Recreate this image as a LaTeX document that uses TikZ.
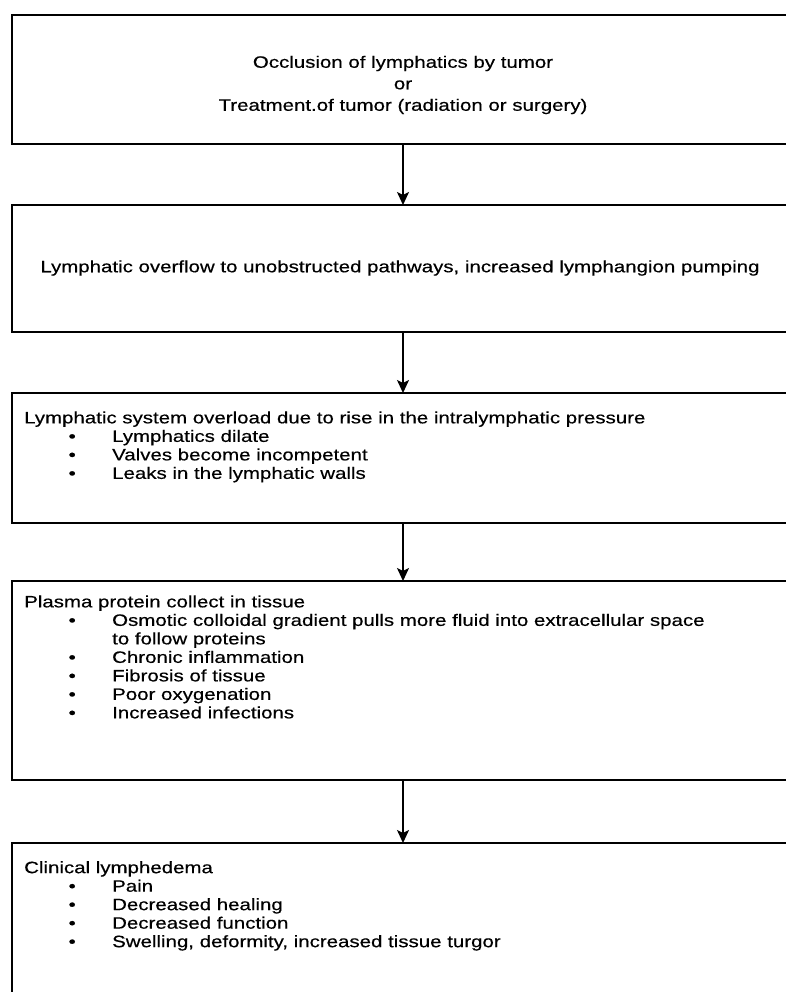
\documentclass[tikz,border=0pt]{standalone}
\usepackage{fontspec}
\setmainfont{Liberation Sans}[FakeStretch=1.24,FakeBold=0.4]
\usetikzlibrary{arrows.meta}
\newcommand{\bitem}[1]{\makebox[88pt][l]{\hspace*{48pt}\makebox[0pt]{•}}#1}
\newcommand{\bcont}[1]{\hspace*{88pt}#1}
\begin{document}
\begin{tikzpicture}[x=1pt,y=-1pt,
  box/.style={draw, line width=1.8pt, minimum width=782pt, anchor=north west, inner sep=0pt, outer sep=0pt},
  arr/.style={line width=1.8pt, -{Stealth[length=13pt,width=12pt,inset=3pt]}},
  txt/.style={inner sep=0pt, font=\fontsize{16.5}{18.5}\selectfont, align=left, anchor=north west},
  ctxt/.style={inner sep=0pt, align=center, anchor=center}]
\useasboundingbox (0,0) rectangle (786,992);
\fill[white] (0,0) rectangle (786,992);
\clip (0,0) rectangle (786,992);
% boxes
\node[box, minimum height=129pt] (b1) at (12,15) {};
\node[box, minimum height=127pt] (b2) at (12,205) {};
\node[box, minimum height=130pt] (b3) at (12,393) {};
\node[box, minimum height=199pt] (b4) at (12,581) {};
\node[box, minimum height=170pt] (b5) at (12,843) {};
% texts
\node[ctxt, font=\fontsize{16.5}{21.5}\selectfont] (t1) at (403,85)
  {Occlusion of lymphatics by tumor\\or\\Treatment.of tumor (radiation or surgery)};
\node[ctxt, font=\fontsize{16.5}{18.5}\selectfont] (t2) at (400,268)
  {Lymphatic overflow to unobstructed pathways, increased lymphangion pumping};
\node[txt] (t3) at (24,411.2)
  {Lymphatic system overload due to rise in the intralymphatic pressure\\
   \bitem{Lymphatics dilate}\\
   \bitem{Valves become incompetent}\\
   \bitem{Leaks in the lymphatic walls}};
\node[txt] (t4) at (24,595.2)
  {Plasma protein collect in tissue\\
   \bitem{Osmotic colloidal gradient pulls more fluid into extracellular space}\\
   \bcont{to follow proteins}\\
   \bitem{Chronic inflammation}\\
   \bitem{Fibrosis of tissue}\\
   \bitem{Poor oxygenation}\\
   \bitem{Increased infections}};
\node[txt] (t5) at (24,861)
  {Clinical lymphedema\\
   \bitem{Pain}\\
   \bitem{Decreased healing}\\
   \bitem{Decreased function}\\
   \bitem{Swelling, deformity, increased tissue turgor}};
% arrows
\draw[arr] (b1.south) -- (b2.north);
\draw[arr] (b2.south) -- (b3.north);
\draw[arr] (b3.south) -- (b4.north);
\draw[arr] (b4.south) -- (b5.north);
\end{tikzpicture}
\end{document}
